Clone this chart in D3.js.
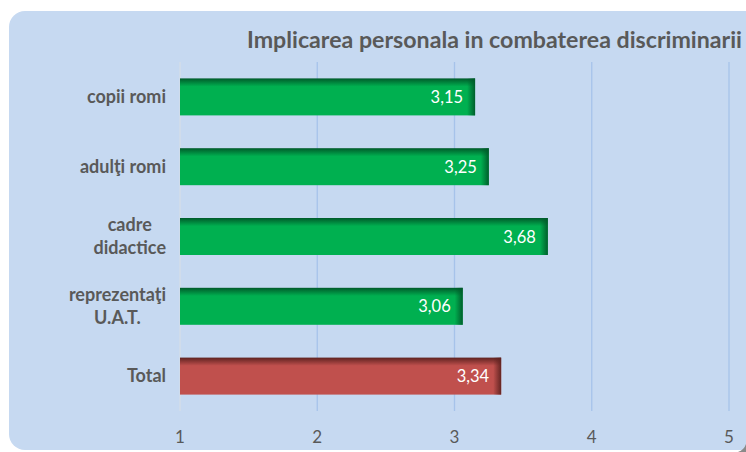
<!DOCTYPE html>
<html><head><meta charset="utf-8">
<script src="https://cdn.jsdelivr.net/npm/d3@7/dist/d3.min.js"></script>
<style>body{margin:0;background:#fff;}svg{display:block;}</style>
</head><body>
<script>
const title = "Implicarea personala in combaterea discriminarii";
const categories = [["copii romi"], ["adulţi romi"], ["cadre", "didactice"], ["reprezentaţi", "U.A.T."], ["Total"]];
const values = [3.15, 3.25, 3.68, 3.06, 3.34];
const kinds = ["g", "g", "g", "g", "r"];
const ticks = [1, 2, 3, 4, 5];

const W = 746, H = 452;
const svg = d3.select("body").append("svg").attr("width", W).attr("height", H);
const defs = svg.append("defs");
const pal = {g: {base: "#00b050", dark: "#005a2a"}, r: {base: "#c0504d", dark: "#5e2220"}};
Object.entries(pal).forEach(([k, c]) => {
  const v = defs.append("linearGradient").attr("id", "v" + k).attr("x1", 0).attr("x2", 0).attr("y1", 0).attr("y2", 1);
  v.append("stop").attr("offset", 0).attr("stop-color", c.dark);
  v.append("stop").attr("offset", 0.22).attr("stop-color", c.base);
  v.append("stop").attr("offset", 1).attr("stop-color", c.base);
  const h = defs.append("linearGradient").attr("id", "h" + k).attr("x1", 0).attr("x2", 1).attr("y1", 0).attr("y2", 0);
  h.append("stop").attr("offset", 0).attr("stop-color", c.dark).attr("stop-opacity", 0);
  h.append("stop").attr("offset", 1).attr("stop-color", c.dark).attr("stop-opacity", 0.95);
});

svg.append("rect").attr("x", 9).attr("y", 11).attr("width", 760).attr("height", 439).attr("rx", 16)
  .attr("fill", "#c6d9f1");
svg.append("path").attr("d", "M746,444 L746,452 L738,452 Q744,450 746,444Z").attr("fill", "#8a8a8a");

const x = d3.scaleLinear().domain([1, 5]).range([180, 729]);
const y = d3.scaleBand().domain(d3.range(categories.length)).range([62, 411]).paddingInner(0.47).paddingOuter(0.235);

const g = svg.append("g");
g.selectAll("line.grid").data(ticks).join("line")
  .attr("x1", d => x(d)).attr("x2", d => x(d)).attr("y1", 62).attr("y2", 411)
  .attr("stroke", d => d === 1 ? "#d5dde8" : "#a6c3ea").attr("stroke-width", 1.3);

const font = "Lato, 'Open Sans', sans-serif";

svg.append("text").attr("x", 742).attr("y", 48).attr("text-anchor", "end")
  .attr("font-family", font).attr("font-weight", "bold").attr("font-size", 22).attr("fill", "#595959")
  .attr("textLength", 495).attr("lengthAdjust", "spacingAndGlyphs")
  .text(title);

const bars = g.selectAll("g.bar").data(values).join("g");
bars.append("rect").attr("x", x(1)).attr("y", (d, i) => y(i)).attr("width", d => x(d) - x(1)).attr("height", y.bandwidth())
  .attr("fill", (d, i) => `url(#v${kinds[i]})`);
bars.append("rect").attr("x", d => x(d) - 8).attr("y", (d, i) => y(i)).attr("width", 8).attr("height", y.bandwidth())
  .attr("fill", (d, i) => `url(#h${kinds[i]})`);
bars.append("text").attr("x", d => x(d) - 12).attr("y", (d, i) => y(i) + y.bandwidth() / 2 + 6)
  .attr("text-anchor", "end").attr("font-family", font).attr("font-size", 16.5).attr("fill", "#ffffff")
  .text(d => d3.format(".2f")(d).replace(".", ","));

categories.forEach((lines, i) => {
  const t = svg.append("text").attr("font-family", font).attr("font-weight", "bold").attr("font-size", 18)
    .attr("fill", "#595959").attr("text-anchor", "middle");
  const cy = y(i) + y.bandwidth() / 2;
  const lh = 23;
  const spans = lines.map((s, j) => t.append("tspan").attr("y", cy + 6 + (j - (lines.length - 1) / 2) * lh).text(s));
  const maxW = d3.max(spans, s => s.node().getComputedTextLength());
  spans.forEach(s => s.attr("x", 166 - maxW / 2));
});

svg.append("g").selectAll("text").data(ticks).join("text")
  .attr("x", d => x(d)).attr("y", 443).attr("text-anchor", "middle")
  .attr("font-family", font).attr("font-size", 17).attr("fill", "#595959").text(d => d);
</script>
</body></html>
